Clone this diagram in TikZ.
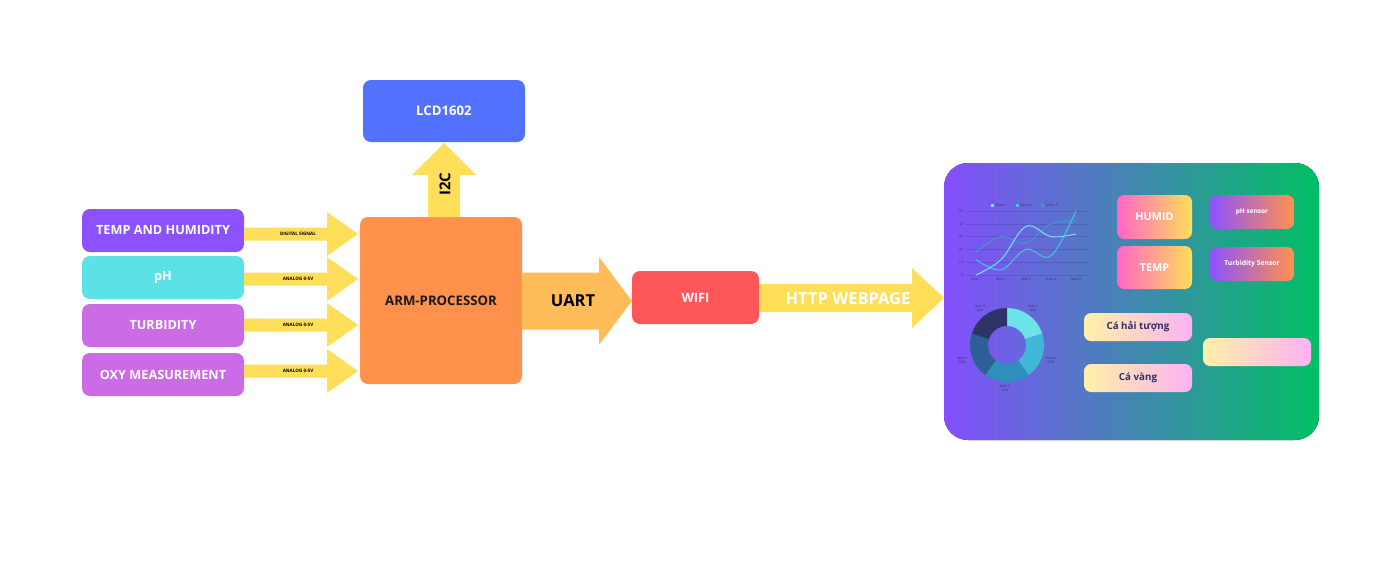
\documentclass[tikz,border=0pt]{standalone}
\usepackage{fontspec}
\setmainfont{Open Sans}
\usetikzlibrary{calc}
\definecolor{cPurple}{HTML}{8C52FF}
\definecolor{cCyan}{HTML}{5CE1E6}
\definecolor{cViolet}{HTML}{CB6CE6}
\definecolor{cOrange}{HTML}{FF914D}
\definecolor{cBlue}{HTML}{5271FF}
\definecolor{cRed}{HTML}{FF5757}
\definecolor{cYellow}{HTML}{FFDE59}
\definecolor{cLOrange}{HTML}{FFBD59}
\definecolor{cGreen}{HTML}{00BF63}
\definecolor{cPink}{HTML}{FF66C4}
\definecolor{cCream}{HTML}{FFF1A8}
\definecolor{cLPink}{HTML}{FDB2F3}
\definecolor{cNavy}{HTML}{2E3166}
\definecolor{sOne}{HTML}{70E6EE}
\definecolor{sTwo}{HTML}{48C2DE}
\definecolor{sThree}{HTML}{3F9AD0}
\definecolor{dOne}{HTML}{6BE3E8}
\definecolor{dTwo}{HTML}{41B9D6}
\definecolor{dThree}{HTML}{2F90BE}
\definecolor{dFour}{HTML}{2B5F95}
\definecolor{dFive}{HTML}{2C3468}
\newcommand\blockarrowh[7]{% xstart, xshaftend, xtip, yc, shafthalf, headhalf, color
  \fill[#7] (#1,{#4-#5}) -- (#2,{#4-#5}) -- (#2,{#4-#6}) -- (#3,#4) -- (#2,{#4+#6}) -- (#2,{#4+#5}) -- (#1,{#4+#5}) -- cycle;}
\tikzset{
  fsz/.style={font=\fontsize{#1}{#1}\selectfont\bfseries},
  box/.style={rounded corners=8pt, inner sep=0pt, text=white},
  sensor/.style={box, minimum width=162pt, minimum height=43pt, fsz=12.7},
  siglabel/.style={fsz=4.6, text=black, inner sep=0pt},
  tiny/.style={font=\fontsize{3.4}{4}\selectfont, text=cNavy, inner sep=0pt, align=center},
  dbox/.style={rounded corners=7pt, inner sep=0pt},
}
\begin{document}
\begin{tikzpicture}[x=1pt,y=-1pt]
\useasboundingbox (0,0) rectangle (1400,568);
\fill[white] (0,0) rectangle (1400,568);

% sensors
\node[sensor, fill=cPurple] (th) at (163,230.5) {TEMP AND HUMIDITY};
\node[sensor, fill=cCyan] (ph) at (163,277.5) {pH};
\node[sensor, fill=cViolet] (tu) at (163,325.5) {TURBIDITY};
\node[sensor, fill=cViolet] (oxy) at (163,374.5) {OXY MEASUREMENT};

% processor, lcd, wifi
\node[box, fill=cOrange, minimum width=162pt, minimum height=167pt, text=black!90, fsz=13.2] (arm) at (441,300.5) {ARM-PROCESSOR};
\node[box, fill=cBlue, minimum width=162pt, minimum height=62pt, fsz=13.2] (lcd) at (444,111) {LCD1602};
\node[box, fill=cRed, minimum width=127pt, minimum height=53pt, fsz=12.8] (wifi) at (695.5,297.5) {WIFI};

% sensor arrows
\blockarrowh{244}{327}{358}{234}{6.5}{22}{cYellow}
\blockarrowh{244}{327}{358}{279}{6.5}{22}{cYellow}
\blockarrowh{244}{327}{358}{325}{6.5}{22}{cYellow}
\blockarrowh{244}{327}{358}{371}{6.5}{22}{cYellow}
\node[siglabel] (l1) at (298,233.5) {DIGITAL SIGNAL};
\node[siglabel] (l2) at (298,279) {ANALOG 0-5V};
\node[siglabel] (l3) at (298,325) {ANALOG 0-5V};
\node[siglabel] (l4) at (298,371) {ANALOG 0-5V};

% I2C arrow (up)
\fill[cYellow] (428,217) -- (428,175) -- (412,175) -- (444,143) -- (476,175) -- (460,175) -- (460,217) -- cycle;
\node[fsz=15, text=black, rotate=90, inner sep=0pt] (i2c) at (445,184) {I2C};

% UART arrow
\blockarrowh{522}{599}{632}{301}{28.5}{44}{cLOrange}
\node[fsz=16.5, text=black, inner sep=0pt] (uart) at (573,301) {UART};

% HTTP arrow
\blockarrowh{759}{912}{944}{298}{14}{30}{cYellow}
\node[fsz=16.5, text=white, inner sep=0pt] (http) at (848,299) {HTTP WEBPAGE};

% dashboard
\fill[left color=cPurple!95!blue, right color=cGreen, rounded corners=24pt] (944,163) rectangle (1319,440);

% line chart
\foreach \v in {0,10,20,30,40,50}{
  \draw[black, opacity=0.13, line width=0.5pt] (966,{275-1.28*\v}) -- (1088,{275-1.28*\v});
  \node[tiny, anchor=east] at (963,{275-1.28*\v}) {\v};
}
\foreach \i/\xx in {1/976,2/1001,3/1026,4/1051,5/1076}{
  \node[tiny] at (\xx,279.5) {Item \i};
}
\fill[sOne] (990.5,203.5) rectangle (993.5,206.5);
\node[tiny, anchor=west] at (995,205) {Series 1};
\fill[sTwo] (1015.5,203.5) rectangle (1018.5,206.5);
\node[tiny, anchor=west] at (1020,205) {Series 2};
\fill[sThree] (1040.5,203.5) rectangle (1043.5,206.5);
\node[tiny, anchor=west] at (1045,205) {Series 3};
\draw[sThree, line width=1pt] plot[smooth, tension=0.6] coordinates {(976,252) (1001,236.6) (1026,243) (1051,223.8) (1076,221.2)};
\draw[sTwo, line width=1pt] plot[smooth, tension=0.6] coordinates {(976,259.6) (1001,269.9) (1026,249.4) (1051,255.8) (1076,211)};
\draw[sOne, line width=1pt] plot[smooth, tension=0.6] coordinates {(976,275) (1001,259.6) (1026,226.4) (1051,236.6) (1076,234)};

% donut chart
\foreach \a/\b/\c in {-90/-18/dOne, -18/54/dTwo, 54/126/dThree, 126/198/dFour, 198/270/dFive}{
  \fill[\c] plot[domain=\a:\b, samples=30] ({1007+37*cos(\x)},{345+37*sin(\x)})
     -- plot[domain=\b:\a, samples=30] ({1007+19*cos(\x)},{345+19*sin(\x)}) -- cycle;
}
\node[tiny] (it1) at (1033,308) {Item 1\\20\%};
\node[tiny] (it2) at (1051,360) {Item 2\\20\%};
\node[tiny] (it3) at (1005,388) {Item 3\\20\%};
\node[tiny] (it4) at (962,360) {Item 4\\20\%};
\node[tiny] (it5) at (980,308) {Item 5\\20\%};

% dashboard boxes
\node[dbox, left color=cPink, right color=cYellow, minimum width=75pt, minimum height=44pt, text=white, fsz=10.8] (humid) at (1154.5,217) {HUMID};
\node[dbox, left color=cPink, right color=cYellow, minimum width=75pt, minimum height=43pt, text=white, fsz=10.8] (temp) at (1154.5,267.5) {TEMP};
\node[dbox, left color=cPurple, right color=cOrange, minimum width=84pt, minimum height=34pt, text=white, fsz=6.5] (phs) at (1252,212) {pH sensor};
\node[dbox, left color=cPurple, right color=cOrange, minimum width=84pt, minimum height=34pt, text=white, fsz=6.8] (tus) at (1252,264) {Turbidity Sensor};
\node[dbox, left color=cCream, right color=cLPink, minimum width=108pt, minimum height=28pt, text=cNavy, fsz=9.8] (ca1) at (1138,327) {Cá hải tượng};
\node[dbox, left color=cCream, right color=cLPink, minimum width=108pt, minimum height=28pt, text=cNavy, fsz=9.8] (ca2) at (1138,378) {Cá vàng};
\node[dbox, left color=cCream, right color=cLPink, minimum width=108pt, minimum height=28pt] (empty) at (1257,352) {};
\end{tikzpicture}
\end{document}
